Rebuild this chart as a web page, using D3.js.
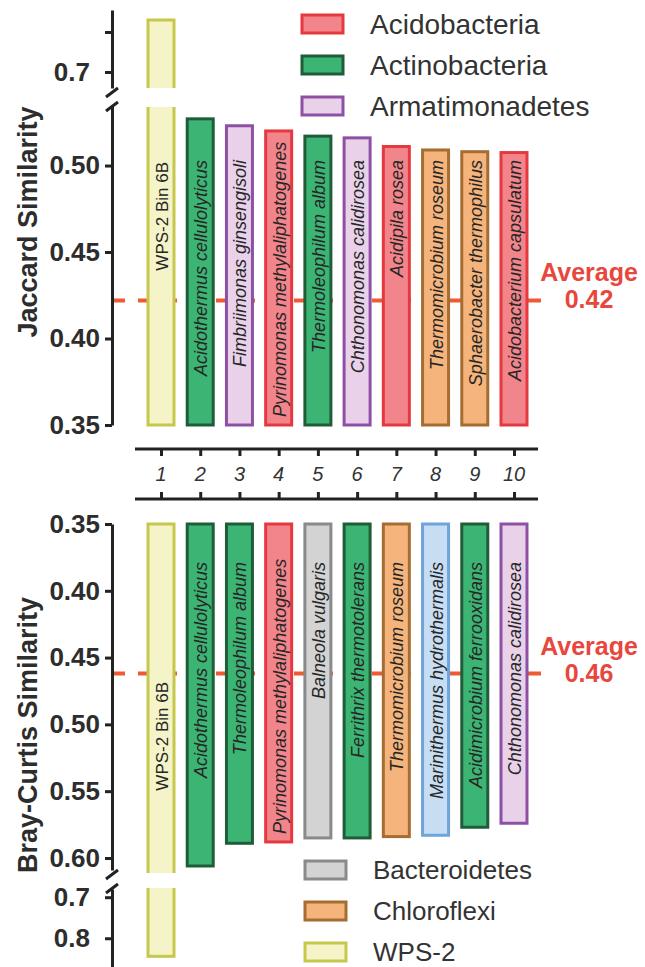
<!DOCTYPE html>
<html lang="en">
<head>
<meta charset="UTF-8">
<title>Jaccard and Bray-Curtis similarity</title>
<script src="https://cdn.jsdelivr.net/npm/d3@7"></script>
<style>
  body { margin:0; background:#fff; }
  svg { display:block; font-family:"Liberation Sans", Arial, sans-serif; }
  .tick text { font-size:26px; font-weight:bold; fill:#2d2d2d; }
  .bar-label { font-size:18px; font-style:italic; fill:#262626; }
  .avg-label { font-size:25px; font-weight:bold; fill:#e8473d; }
  .legend-label { font-size:27px; fill:#333; }
</style>
</head>
<body>
<svg width="645" height="967"></svg>
<script>
// ---- data ----
const ranks = ["1","2","3","4","5","6","7","8","9","10"];

const jaccardNames = ["WPS-2 Bin 6B","Acidothermus cellulolyticus","Fimbriimonas ginsengisoli",
  "Pyrinomonas methylaliphatogenes","Thermoleophilum album","Chthonomonas calidirosea",
  "Acidipila rosea","Thermomicrobium roseum","Sphaerobacter thermophilus","Acidobacterium capsulatum"];
const jaccardPhyla = ["WPS-2","Actinobacteria","Armatimonadetes","Acidobacteria","Actinobacteria",
  "Armatimonadetes","Acidobacteria","Chloroflexi","Chloroflexi","Acidobacteria"];
const jaccardValues = [0.83, 0.527, 0.523, 0.520, 0.517, 0.516, 0.511, 0.509, 0.508, 0.5075];
const jaccardAverage = 0.422;

const brayNames = ["WPS-2 Bin 6B","Acidothermus cellulolyticus","Thermoleophilum album",
  "Pyrinomonas methylaliphatogenes","Balneola vulgaris","Ferrithrix thermotolerans",
  "Thermomicrobium roseum","Marinithermus hydrothermalis","Acidimicrobium ferrooxidans","Chthonomonas calidirosea"];
const brayPhyla = ["WPS-2","Actinobacteria","Actinobacteria","Acidobacteria","Bacteroidetes",
  "Actinobacteria","Chloroflexi","Deinococcus-Thermus","Actinobacteria","Armatimonadetes"];
const brayValues = [0.844, 0.606, 0.589, 0.588, 0.585, 0.585, 0.584, 0.583, 0.577, 0.574];
const brayAverage = 0.462;

const legendTop = ["Acidobacteria","Actinobacteria","Armatimonadetes"];
const legendBottom = ["Bacteroidetes","Chloroflexi","WPS-2"];

const phyla = ["Acidobacteria","Actinobacteria","Armatimonadetes","Bacteroidetes","Chloroflexi","WPS-2","Deinococcus-Thermus"];
const fill = d3.scaleOrdinal().domain(phyla)
  .range(["#f2858b","#3cb574","#e9d2e9","#d3d3d3","#f4b47c","#f4f4c8","#c7ddf3"]);
const stroke = d3.scaleOrdinal().domain(phyla)
  .range(["#e5393f","#1f5d38","#8e50a4","#8a8a8a","#a66d33","#c7c74c","#6fa4da"]);

const svg = d3.select('svg');
const axisX = 112;
const barW = 26;
const x = d3.scalePoint().domain(ranks).range([161, 514]);
const defs = svg.append('defs');

function clip(id, y0, y1) {
  defs.append('clipPath').attr('id', id)
    .append('rect').attr('x', 0).attr('y', y0).attr('width', 645).attr('height', y1 - y0);
  return `url(#${id})`;
}

function styleAxis(g) {
  g.select('.domain').attr('stroke', '#222').attr('stroke-width', 3);
  g.selectAll('.tick line').attr('stroke', '#222').attr('stroke-width', 3);
}

function breakMark(y) {
  svg.append('line').attr('x1', axisX - 6).attr('y1', y + 5).attr('x2', axisX + 6).attr('y2', y - 4)
    .attr('stroke', '#222').attr('stroke-width', 3);
}

function drawPanel(p) {
  const g = svg.append('g');
  // average dashed line, behind the bars
  const ya = p.y(p.avg);
  g.append('line')
    .attr('x1', axisX).attr('x2', 546).attr('y1', ya).attr('y2', ya)
    .attr('stroke', '#ee5a33').attr('stroke-width', 4).attr('stroke-dasharray', '13,13');
  g.append('text').attr('class', 'avg-label').attr('text-anchor', 'middle')
    .attr('x', 589).attr('y', ya - 19).text('Average');
  g.append('text').attr('class', 'avg-label').attr('text-anchor', 'middle')
    .attr('x', 589).attr('y', ya + 8).text(d3.format('.2f')(p.avg));

  const mainClip = clip(p.id + 'm', p.mainClip[0], p.mainClip[1]);
  const brkClip = clip(p.id + 'b', p.brkClip[0], p.brkClip[1]);
  const mainMax = p.y.domain()[1];
  const base = p.y(0.35);

  ranks.forEach((r, i) => {
    const v = p.values[i];
    const ph = p.phyla[i];
    const cx = x(r);
    const parts = [];
    if (v <= mainMax) {
      parts.push([base, p.y(v), null]);
    } else {
      // main section runs past the clip so the cut end stays open
      parts.push([base, p.y(mainMax) + p.dir * 12, mainClip]);
      parts.push([p.yb(p.yb.domain()[0]) - p.dir * 12, p.yb(v), brkClip]);
    }
    parts.forEach(([a, b, cp]) => {
      const rect = g.append('rect')
        .attr('x', cx - barW / 2).attr('width', barW)
        .attr('y', Math.min(a, b)).attr('height', Math.abs(a - b))
        .attr('fill', fill(ph)).attr('stroke', stroke(ph)).attr('stroke-width', 3);
      if (cp) rect.attr('clip-path', cp);
    });

    // rotated species name
    const isBin = p.names[i].startsWith('WPS');
    const t = g.append('text')
      .attr('class', 'bar-label')
      .attr('text-anchor', 'end')
      .attr('dominant-baseline', 'central')
      .style('font-style', isBin ? 'normal' : 'italic')
      .style('font-size', isBin ? '17px' : null)
      .text(p.names[i]);
    const len = t.node().getComputedTextLength();
    const far = p.dir < 0 ? base : (v <= mainMax ? p.y(v) : p.mainClip[1]);
    const top = isBin ? p.binLabelY : p.labelY;
    const ty = Math.min(top, far - 8 - len);
    t.attr('transform', `translate(${cx + 1},${ty}) rotate(-90)`);
  });

  // axes
  const ax = svg.append('g').attr('transform', `translate(${axisX},0)`)
    .call(d3.axisLeft(p.y).tickValues(p.ticks).tickFormat(d3.format('.2f'))
      .tickSize(7).tickSizeOuter(0).tickPadding(5));
  styleAxis(ax);
  const bx = svg.append('g').attr('transform', `translate(${axisX},0)`)
    .call(d3.axisLeft(p.yb).tickValues(p.brkTicks).tickFormat(p.brkFormat)
      .tickSize(7).tickSizeOuter(0).tickPadding(15));
  styleAxis(bx);

  svg.append('text')
    .attr('transform', `translate(37,${p.titleY}) rotate(-90)`)
    .attr('text-anchor', 'middle')
    .style('font-size', '27px').style('font-weight', 'bold').attr('fill', '#2d2d2d')
    .text(p.title);
}

// ---- top panel: Jaccard ----
drawPanel({
  id: 'jac', names: jaccardNames, phyla: jaccardPhyla, values: jaccardValues, avg: jaccardAverage,
  y: d3.scaleLinear().domain([0.35, 0.535]).range([425, 105]),
  yb: d3.scaleLinear().domain([0.66, 0.855]).range([88, 10]),
  dir: -1, mainClip: [107, 440], brkClip: [0, 88],
  ticks: [0.35, 0.40, 0.45, 0.50], brkTicks: [0.7, 0.8],
  brkFormat: d => d === 0.7 ? '0.7' : '',
  labelY: 160, binLabelY: 162, title: 'Jaccard Similarity', titleY: 222
});
breakMark(92);
breakMark(106);

// ---- bottom panel: Bray-Curtis ----
drawPanel({
  id: 'bc', names: brayNames, phyla: brayPhyla, values: brayValues, avg: brayAverage,
  y: d3.scaleLinear().domain([0.35, 0.609]).range([524, 870]),
  yb: d3.scaleLinear().domain([0.68, 0.87]).range([889, 967]),
  dir: 1, mainClip: [515, 873], brkClip: [888, 967],
  ticks: [0.35, 0.40, 0.45, 0.50, 0.55, 0.60], brkTicks: [0.7, 0.8],
  brkFormat: d3.format('.1f'),
  labelY: 562, binLabelY: 682, title: 'Bray-Curtis Similarity', titleY: 735
});
breakMark(874);
breakMark(888);

// ---- rank band between the panels ----
const band = svg.append('g');
[449, 499].forEach(y => band.append('line')
  .attr('x1', 135).attr('x2', 538).attr('y1', y).attr('y2', y)
  .attr('stroke', '#222').attr('stroke-width', 3));
const topTicks = band.append('g').attr('transform', 'translate(0,449)')
  .call(d3.axisBottom(x).tickSize(7).tickFormat(''));
const botTicks = band.append('g').attr('transform', 'translate(0,499)')
  .call(d3.axisTop(x).tickSize(7).tickFormat(''));
[topTicks, botTicks].forEach(g => {
  g.select('.domain').remove();
  g.selectAll('.tick line').attr('stroke', '#222').attr('stroke-width', 3);
});
band.selectAll('text.rank').data(ranks).join('text')
  .attr('class', 'rank')
  .attr('x', d => x(d)).attr('y', 474)
  .attr('text-anchor', 'middle').attr('dominant-baseline', 'central')
  .style('font-size', '20px').style('font-style', 'italic').attr('fill', '#333')
  .text(d => d);

// ---- legends ----
function legend(items, lx, ly0, size) {
  const yl = d3.scalePoint().domain(items).range([ly0, ly0 + 82]);
  const g = svg.append('g');
  items.forEach(k => {
    g.append('rect').attr('x', lx).attr('y', yl(k) - 9).attr('width', 41).attr('height', 18)
      .attr('fill', fill(k)).attr('stroke', stroke(k)).attr('stroke-width', 3);
    g.append('text').attr('class', 'legend-label').style('font-size', size + 'px')
      .attr('x', lx + 68).attr('y', yl(k)).attr('dominant-baseline', 'central').text(k);
  });
}
legend(legendTop, 302, 24, 28);
legend(legendBottom, 305, 870, 26);
</script>
</body>
</html>
